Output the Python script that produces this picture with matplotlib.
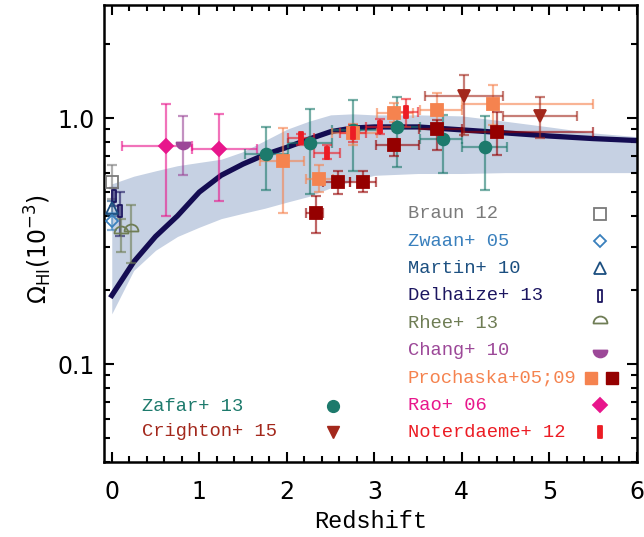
import numpy as np
import matplotlib
matplotlib.use("Agg")
import matplotlib.pyplot as plt
from matplotlib.path import Path
from matplotlib.markers import MarkerStyle

# ---- model curve and shaded range ----
band_z = [0.0, 0.25, 0.5, 0.75, 1.0, 1.25, 1.5, 1.75, 2.0, 2.25, 2.5, 2.75, 3.0, 3.5, 4.0, 4.5, 5.0, 5.5, 6.0]
band_hi = [0.54, 0.58, 0.61, 0.64, 0.66, 0.68, 0.73, 0.81, 0.90, 0.97, 1.03, 1.04, 1.03, 1.03, 1.02, 0.97, 0.92, 0.87, 0.84]
band_lo = [0.16, 0.24, 0.29, 0.33, 0.36, 0.39, 0.41, 0.43, 0.455, 0.48, 0.52, 0.555, 0.585, 0.595, 0.595, 0.60, 0.60, 0.60, 0.60]
model = [0.19, 0.26, 0.33, 0.40, 0.50, 0.585, 0.65, 0.71, 0.76, 0.82, 0.88, 0.91, 0.92, 0.92, 0.895, 0.87, 0.845, 0.825, 0.81]

# ---- observations: z, value, y range, z range ----
braun_z, braun_v, braun_lo, braun_hi = [0.0], [0.55], [0.47], [0.645]
zwaan_z, zwaan_v, zwaan_lo, zwaan_hi = [0.0], [0.38], [0.35], [0.41]
martin_z, martin_v, martin_lo, martin_hi = [0.0], [0.43], [0.40], [0.46]
delh_z, delh_v, delh_lo, delh_hi = [0.028, 0.096], [0.48, 0.42], [0.44, 0.33], [0.52, 0.50]
rhee_z, rhee_v, rhee_lo, rhee_hi = [0.11, 0.22], [0.34, 0.347], [0.285, 0.257], [0.39, 0.443]
chang_z, chang_v, chang_lo, chang_hi = [0.81], [0.80], [0.586], [1.02]

rao_z, rao_v = [0.62, 1.23], [0.77, 0.75]
rao_lo, rao_hi = [0.40, 0.46], [1.14, 1.04]
rao_zlo, rao_zhi = [0.115, 0.92], [0.92, 1.66]

zafar_z = [1.76, 2.27, 2.76, 3.26, 3.78, 4.26]
zafar_v = [0.714, 0.79, 0.89, 0.92, 0.82, 0.76]
zafar_lo = [0.51, 0.49, 0.61, 0.63, 0.60, 0.51]
zafar_hi = [0.92, 1.09, 1.18, 1.22, 1.03, 1.02]
zafar_zlo = [1.52, 2.01, 2.52, 3.06, 3.52, 4.0]
zafar_zhi = [2.01, 2.52, 3.06, 3.52, 4.0, 4.52]

pro05_z = [1.96, 2.37, 2.76, 3.22, 3.72, 4.36]
pro05_v = [0.67, 0.565, 0.87, 1.05, 1.08, 1.14]
pro05_lo = [0.41, 0.50, 0.78, 0.96, 0.94, 0.94]
pro05_hi = [0.91, 0.645, 0.95, 1.15, 1.26, 1.36]
pro05_zlo = [1.69, 2.22, 2.52, 3.03, 3.52, 4.0]
pro05_zhi = [2.20, 2.53, 3.03, 3.44, 4.0, 5.5]

pro09_z = [2.33, 2.58, 2.87, 3.22, 3.72, 4.40]
pro09_v = [0.41, 0.55, 0.55, 0.777, 0.90, 0.877]
pro09_lo = [0.34, 0.49, 0.50, 0.70, 0.74, 0.71]
pro09_hi = [0.48, 0.61, 0.61, 0.82, 0.98, 1.06]
pro09_zlo = [2.22, 2.41, 2.72, 3.02, 3.51, 4.0]
pro09_zhi = [2.41, 2.72, 3.02, 3.51, 4.0, 5.5]

noter_z = [2.16, 2.46, 2.76, 3.06, 3.36]
noter_v = [0.83, 0.72, 0.87, 0.92, 1.06]
noter_lo = [0.78, 0.68, 0.80, 0.86, 0.92]
noter_hi = [0.86, 0.78, 0.94, 0.99, 1.20]
noter_zlo = [2.01, 2.31, 2.61, 2.91, 3.21]
noter_zhi = [2.31, 2.61, 2.91, 3.21, 3.50]

crig_z, crig_v = [4.02, 4.89], [1.23, 1.02]
crig_lo, crig_hi = [0.85, 0.83], [1.50, 1.22]
crig_zlo, crig_zhi = [3.58, 4.47], [4.47, 5.31]

# colours
c_braun = '#7a7a7a'
c_zwaan = '#3a80bd'
c_martin = '#1b4f80'
c_delh = '#1c1660'
c_rhee = '#6f7d55'
c_chang = '#9c4898'
c_pro05 = '#f5834f'
c_pro09 = '#950000'
c_rao = '#e8168c'
c_noter = '#ec1c24'
c_zafar = '#1d7a6c'
c_crig = '#a3281c'

# custom markers
bar_mk = MarkerStyle(Path([(-0.32, -1), (0.32, -1), (0.32, 1), (-0.32, 1), (-0.32, -1)],
                          [1, 2, 2, 2, 79]))
dome_mk = MarkerStyle(Path.wedge(0, 180))
cup_mk = MarkerStyle(Path.wedge(180, 360))

fig = plt.figure(figsize=(6.44, 5.37), dpi=100)
ax = fig.add_axes([0.162, 0.1397, 0.827, 0.851])

ax.fill_between(band_z, band_lo, band_hi, color='#c6d1e3', lw=0, zorder=1)
ax.plot(band_z, model, color='#140c52', lw=3.8, zorder=2)


def survey(z, v, lo, hi, color, marker, ms, zlo=None, zhi=None, open_mk=False, mew=1.3):
    z = np.array(z); v = np.array(v)
    yerr = [v - np.array(lo), np.array(hi) - v]
    xerr = None
    if zlo is not None:
        xerr = [z - np.array(zlo), np.array(zhi) - z]
    ax.errorbar(z, v, yerr=yerr, xerr=xerr, fmt='none', ecolor=color, alpha=0.6,
                elinewidth=1.6, capsize=3.5, capthick=1.6, zorder=3)
    ax.plot(z, v, ls='none', marker=marker, ms=ms, color=color,
            mfc='none' if open_mk else color, mew=mew, zorder=4)


survey(braun_z, braun_v, braun_lo, braun_hi, c_braun, 's', 8.5, open_mk=True)
survey(delh_z, delh_v, delh_lo, delh_hi, c_delh, bar_mk, 9, open_mk=True)
survey(martin_z, martin_v, martin_lo, martin_hi, c_martin, '^', 8, open_mk=True)
survey(zwaan_z, zwaan_v, zwaan_lo, zwaan_hi, c_zwaan, 'D', 6.5, open_mk=True)
survey(rhee_z, rhee_v, rhee_lo, rhee_hi, c_rhee, dome_mk, 10, open_mk=True)
survey(chang_z, chang_v, chang_lo, chang_hi, c_chang, cup_mk, 10)
survey(rao_z, rao_v, rao_lo, rao_hi, c_rao, 'D', 7, rao_zlo, rao_zhi)
survey(zafar_z, zafar_v, zafar_lo, zafar_hi, c_zafar, 'o', 8.5, zafar_zlo, zafar_zhi)
survey(pro05_z, pro05_v, pro05_lo, pro05_hi, c_pro05, 's', 8.5, pro05_zlo, pro05_zhi)
survey(pro09_z, pro09_v, pro09_lo, pro09_hi, c_pro09, 's', 8.5, pro09_zlo, pro09_zhi)
survey(noter_z, noter_v, noter_lo, noter_hi, c_noter, bar_mk, 9, noter_zlo, noter_zhi)
survey(crig_z, crig_v, crig_lo, crig_hi, c_crig, 'v', 9, crig_zlo, crig_zhi)

# ---- legend written as text ----
mono = 'Liberation Mono'
legend_right = [
    ('Braun 12', c_braun, 's', 8.5, True),
    ('Zwaan+ 05', c_zwaan, 'D', 6.5, True),
    ('Martin+ 10', c_martin, '^', 8, True),
    ('Delhaize+ 13', c_delh, bar_mk, 9, True),
    ('Rhee+ 13', c_rhee, dome_mk, 10, True),
    ('Chang+ 10', c_chang, cup_mk, 10, False),
    ('Prochaska+05;09', c_pro05, None, 8.5, False),
    ('Rao+ 06', c_rao, 'D', 7, False),
    ('Noterdaeme+ 12', c_noter, bar_mk, 9, False),
]
for i, (lab, col, mk, ms, op) in enumerate(legend_right):
    yy = 0.543 - i * 0.0598
    ax.text(0.570, yy, lab, color=col, family=mono, fontsize=13.5,
            va='center', ha='left', transform=ax.transAxes)
    if mk is None:
        ax.plot([0.914], [yy], 's', ms=8.5, color=c_pro05, transform=ax.transAxes)
        ax.plot([0.953], [yy], 's', ms=8.5, color=c_pro09, transform=ax.transAxes)
    else:
        ax.plot([0.930], [yy], ls='none', marker=mk, ms=ms, color=col,
                mfc='none' if op else col, mew=1.3, transform=ax.transAxes)

legend_left = [
    ('Zafar+ 13', c_zafar, 'o', 8.5),
    ('Crighton+ 15', c_crig, 'v', 9),
]
for i, (lab, col, mk, ms) in enumerate(legend_left):
    yy = 0.1225 - i * 0.0565
    ax.text(0.070, yy, lab, color=col, family=mono, fontsize=13.5,
            va='center', ha='left', transform=ax.transAxes)
    ax.plot([0.429], [yy], ls='none', marker=mk, ms=ms, color=col, transform=ax.transAxes)

# ---- axes ----
ax.set_yscale('log')
ax.set_xlim(-0.085, 6.0)
ax.set_ylim(0.04, 2.88)
ax.set_xticks(range(0, 7))
ax.set_xticks(np.arange(0, 6.01, 0.2), minor=True)
ax.set_yticks([0.1, 1.0])
ax.set_yticklabels(['0.1', '1.0'])
ax.set_yticks([0.04, 0.05, 0.06, 0.07, 0.08, 0.09, 0.2, 0.3, 0.4, 0.5, 0.6, 0.7, 0.8, 0.9, 2.0], minor=True)
ax.yaxis.set_minor_formatter(plt.NullFormatter())
ax.tick_params(which='both', direction='in', top=True, right=True, width=1.5, labelsize=17)
ax.tick_params(which='major', length=7.5)
ax.tick_params(which='minor', length=4)
ax.tick_params(axis='x', pad=13)
ax.tick_params(axis='y', pad=7)
for sp in ax.spines.values():
    sp.set_linewidth(1.8)

ax.set_xlabel('Redshift', family=mono, fontsize=17, labelpad=4)
ax.set_ylabel(r'$\Omega_{\rm HI}(10^{-3})$', fontsize=17)
ax.yaxis.set_label_coords(-0.095, 0.466)

fig.savefig('out.png', dpi=100)
